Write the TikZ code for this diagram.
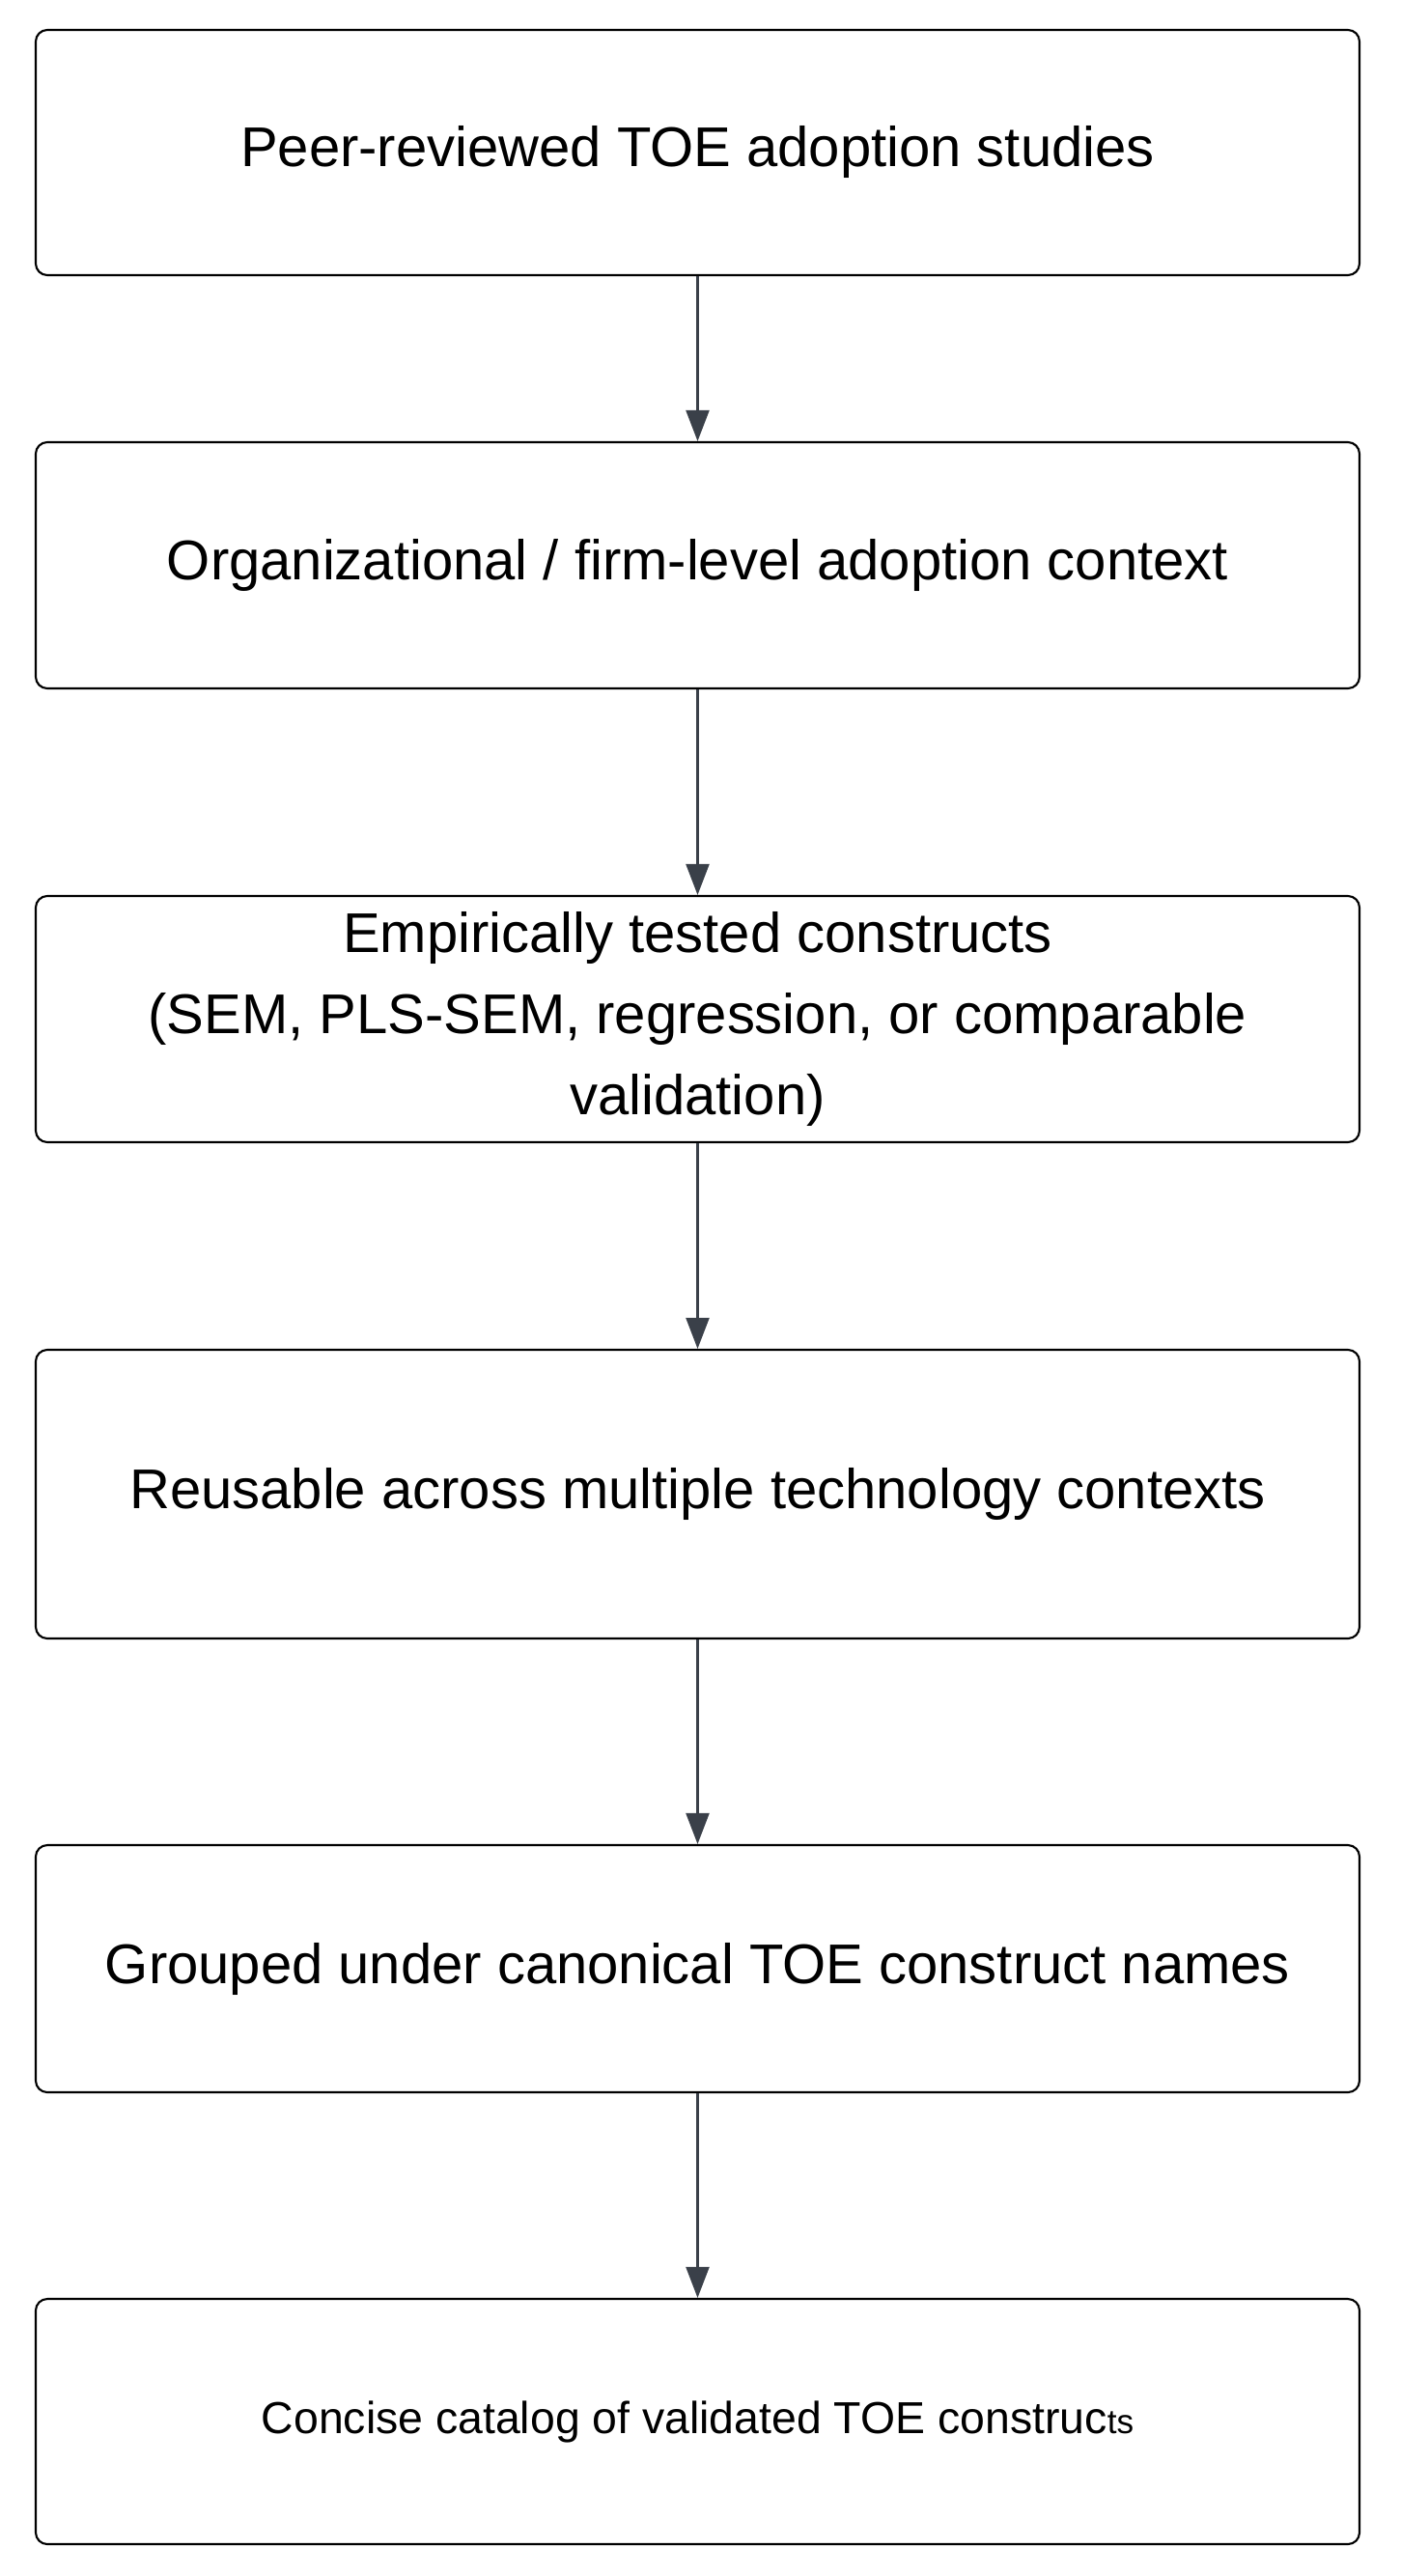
\documentclass[tikz,border=0pt]{standalone}
\usepackage{fontspec}
\setmainfont{Liberation Sans}
\usetikzlibrary{arrows.meta, positioning}
\definecolor{arrowgray}{HTML}{3A4049}
\tikzset{
  stage/.style={draw=black, line width=0.6pt, rounded corners=1.2mm, minimum width=137.1mm,
    align=center, font=\fontsize{16.5}{24}\selectfont, inner sep=0pt},
  flow/.style={draw=arrowgray, line width=0.6pt, -{Triangle[length=3.2mm,width=2.4mm]}}
}
\begin{document}
\begin{tikzpicture}[x=1mm,y=1mm]
\useasboundingbox (0,0) rectangle (145.1,-266.8);
\node[stage, minimum height=25.4mm] (studies) at (72.25,-15.8) {Peer-reviewed TOE adoption studies};
\node[stage, minimum height=25.5mm] (context) at (72.25,-58.55) {Organizational / firm-level adoption context};
\node[stage, minimum height=25.5mm] (tested) at (72.25,-105.55) {Empirically tested constructs\\(SEM, PLS-SEM, regression, or comparable\\validation)};
\node[stage, minimum height=29.9mm] (reuse) at (72.25,-154.75) {Reusable across multiple technology contexts};
\node[stage, minimum height=25.6mm] (grouped) at (72.25,-203.9) {Grouped under canonical TOE construct names};
\node[stage, minimum height=25.4mm, font=\fontsize{13.2}{16}\selectfont] (catalog) at (72.25,-250.8) {Concise catalog of validated TOE construc{\fontsize{10}{12}\selectfont ts}};
% connectors
\draw[flow] (studies) -- (context);
\draw[flow] (context) -- (tested);
\draw[flow] (tested) -- (reuse);
\draw[flow] (reuse) -- (grouped);
\draw[flow] (grouped) -- (catalog);
\end{tikzpicture}
\end{document}
